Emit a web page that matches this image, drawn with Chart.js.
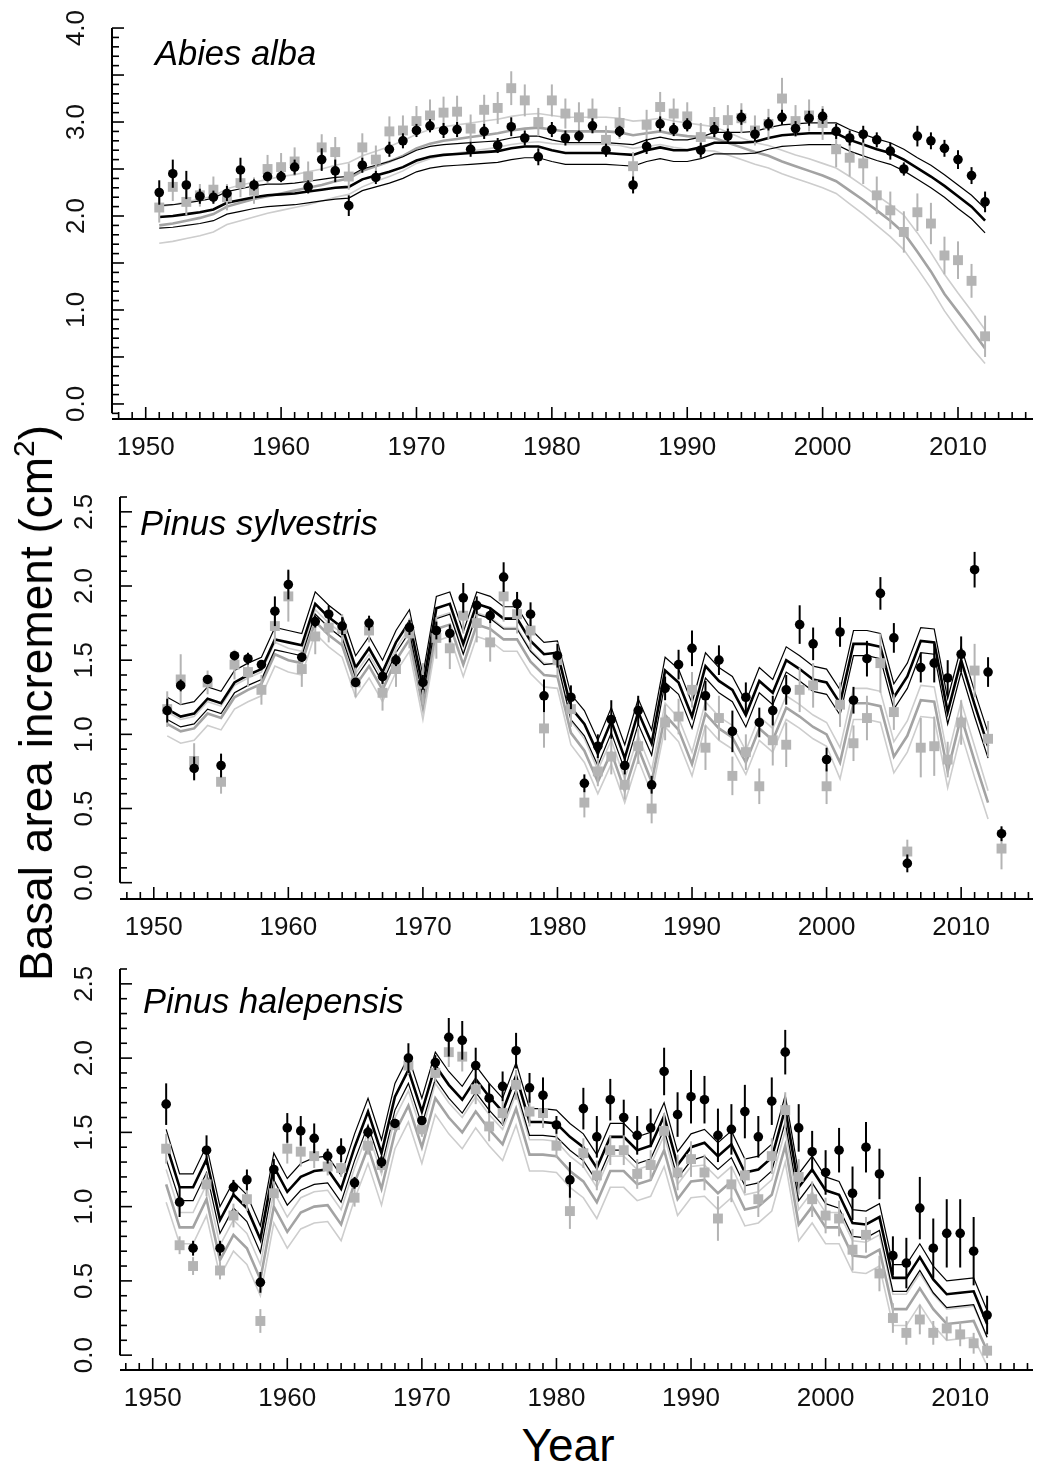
<!DOCTYPE html>
<html>
<head>
<meta charset="utf-8">
<script src="https://cdn.jsdelivr.net/npm/chart.js@4.4.0/dist/chart.umd.min.js"></script>
<style>
  html, body { margin: 0; padding: 0; background: #fff; }
  body { width: 1040px; height: 1465px; position: relative; overflow: hidden;
         font-family: "Liberation Sans", Arial, sans-serif; color: #000; }
  canvas { position: absolute; left: 0; }
  .species { position: absolute; font-style: italic; font-size: 34.5px; line-height: 1; white-space: nowrap; }
  #ylab { position: absolute; left: 36px; top: 703px; font-size: 46px; line-height: 1; white-space: nowrap;
          transform: translate(-50%, -50%) rotate(-90deg); }
  #ylab sup { font-size: 30px; vertical-align: 18px; line-height: 0; }
  #xlab { position: absolute; left: 568px; top: 1445px; font-size: 46px; line-height: 1;
          transform: translate(-50%, -50%); }
</style>
</head>
<body>
<canvas id="abies" width="1040" height="470" style="top:0px"></canvas>
<canvas id="sylvestris" width="1040" height="480" style="top:470px"></canvas>
<canvas id="halepensis" width="1040" height="465" style="top:950px"></canvas>

<div class="species" style="left:155px; top:36px">Abies alba</div>
<div class="species" style="left:140px; top:506px">Pinus sylvestris</div>
<div class="species" style="left:143px; top:984px">Pinus halepensis</div>
<div id="ylab">Basal area increment (cm<sup>2</sup>)</div>
<div id="xlab">Year</div>

<script>
// ---- categories / tick labels ----
const years = [1951, 1952, 1953, 1954, 1955, 1956, 1957, 1958, 1959, 1960,
               1961, 1962, 1963, 1964, 1965, 1966, 1967, 1968, 1969, 1970,
               1971, 1972, 1973, 1974, 1975, 1976, 1977, 1978, 1979, 1980,
               1981, 1982, 1983, 1984, 1985, 1986, 1987, 1988, 1989, 1990,
               1991, 1992, 1993, 1994, 1995, 1996, 1997, 1998, 1999, 2000,
               2001, 2002, 2003, 2004, 2005, 2006, 2007, 2008, 2009, 2010,
               2011, 2012];
const yearsSylv = [...years, 2013];
const xLabels = [1950, 1960, 1970, 1980, 1990, 2000, 2010];
const yLabelsAbies = [0, 1, 2, 3, 4];
const yLabelsPinus = [0, 0.5, 1, 1.5, 2, 2.5];

// ---- Abies alba ----
const abiesBlack = [2.25, 2.45, 2.33, 2.21, 2.20, 2.24, 2.49, 2.33, 2.42, 2.42,
  2.52, 2.31, 2.60, 2.48, 2.11, 2.54, 2.41, 2.71, 2.80, 2.91,
  2.96, 2.91, 2.92, 2.71, 2.90, 2.75, 2.95, 2.83, 2.63, 2.92,
  2.83, 2.85, 2.96, 2.70, 2.90, 2.33, 2.74, 2.98, 2.92, 2.97,
  2.70, 2.92, 2.85, 3.05, 2.87, 2.98, 3.05, 2.93, 3.04, 3.06,
  2.90, 2.83, 2.87, 2.81, 2.69, 2.50, 2.85, 2.80, 2.72, 2.60,
  2.43, 2.15];
const abiesBlackErr = [0.13, 0.15, 0.15, 0.08, 0.07, 0.08, 0.13, 0.06, 0.05, 0.06,
  0.08, 0.07, 0.12, 0.12, 0.11, 0.08, 0.07, 0.08, 0.08, 0.07,
  0.07, 0.08, 0.08, 0.08, 0.08, 0.08, 0.10, 0.08, 0.09, 0.08,
  0.08, 0.06, 0.08, 0.07, 0.06, 0.09, 0.08, 0.08, 0.07, 0.07,
  0.08, 0.08, 0.08, 0.08, 0.08, 0.07, 0.08, 0.08, 0.08, 0.08,
  0.08, 0.08, 0.09, 0.08, 0.09, 0.07, 0.11, 0.09, 0.09, 0.10,
  0.09, 0.11];
const abiesGrey = [2.09, 2.31, 2.15, 2.22, 2.28, 2.20, 2.35, 2.27, 2.50, 2.52,
  2.58, 2.42, 2.73, 2.68, 2.42, 2.73, 2.60, 2.90, 2.91, 3.01,
  3.07, 3.10, 3.11, 2.93, 3.13, 3.15, 3.36, 3.23, 3.00, 3.23,
  3.09, 3.05, 3.09, 2.81, 2.99, 2.53, 2.97, 3.16, 3.09, 3.06,
  2.84, 3.00, 3.02, 3.04, 2.91, 2.98, 3.25, 3.01, 3.07, 2.99,
  2.71, 2.62, 2.56, 2.22, 2.06, 1.83, 2.04, 1.92, 1.58, 1.53,
  1.31, 0.72];
const abiesGreyErr = [0.16, 0.15, 0.14, 0.12, 0.14, 0.14, 0.15, 0.14, 0.15, 0.15,
  0.15, 0.16, 0.14, 0.16, 0.14, 0.15, 0.15, 0.16, 0.16, 0.16,
  0.17, 0.17, 0.17, 0.15, 0.16, 0.17, 0.18, 0.17, 0.15, 0.17,
  0.16, 0.16, 0.16, 0.15, 0.17, 0.15, 0.16, 0.16, 0.16, 0.15,
  0.15, 0.16, 0.16, 0.16, 0.16, 0.16, 0.22, 0.17, 0.17, 0.18,
  0.19, 0.20, 0.22, 0.20, 0.20, 0.22, 0.20, 0.22, 0.20, 0.20,
  0.18, 0.22];
const abiesFit = [1.99, 2.00, 2.02, 2.04, 2.07, 2.14, 2.17, 2.20, 2.22, 2.23,
  2.24, 2.26, 2.28, 2.30, 2.31, 2.39, 2.43, 2.47, 2.52, 2.59,
  2.63, 2.65, 2.66, 2.67, 2.68, 2.69, 2.72, 2.74, 2.74, 2.70,
  2.67, 2.67, 2.67, 2.67, 2.66, 2.65, 2.70, 2.73, 2.70, 2.70,
  2.73, 2.78, 2.78, 2.78, 2.79, 2.83, 2.86, 2.87, 2.88, 2.88,
  2.88, 2.81, 2.76, 2.71, 2.67, 2.60, 2.51, 2.42, 2.32, 2.21,
  2.10, 1.95];
const abiesFitUp = [2.11, 2.12, 2.14, 2.16, 2.19, 2.26, 2.29, 2.32, 2.34, 2.34,
  2.35, 2.37, 2.39, 2.41, 2.42, 2.50, 2.54, 2.58, 2.63, 2.70,
  2.74, 2.76, 2.77, 2.78, 2.79, 2.80, 2.83, 2.85, 2.85, 2.81,
  2.78, 2.78, 2.78, 2.78, 2.77, 2.76, 2.81, 2.84, 2.81, 2.81,
  2.84, 2.89, 2.89, 2.89, 2.90, 2.94, 2.97, 2.98, 2.99, 2.99,
  2.99, 2.92, 2.87, 2.82, 2.78, 2.71, 2.62, 2.54, 2.44, 2.33,
  2.22, 2.08];
const abiesFitLo = [1.87, 1.88, 1.90, 1.92, 1.95, 2.02, 2.05, 2.08, 2.10, 2.11,
  2.12, 2.14, 2.16, 2.18, 2.19, 2.27, 2.31, 2.35, 2.40, 2.47,
  2.51, 2.53, 2.54, 2.55, 2.56, 2.57, 2.60, 2.62, 2.62, 2.58,
  2.55, 2.55, 2.55, 2.55, 2.54, 2.53, 2.58, 2.61, 2.58, 2.58,
  2.61, 2.66, 2.66, 2.66, 2.67, 2.71, 2.74, 2.75, 2.76, 2.76,
  2.76, 2.69, 2.64, 2.59, 2.55, 2.48, 2.39, 2.30, 2.20, 2.08,
  1.97, 1.82];
const abiesGreyFit = [1.90, 1.92, 1.95, 1.98, 2.02, 2.10, 2.14, 2.18, 2.21, 2.24,
  2.27, 2.30, 2.33, 2.37, 2.40, 2.48, 2.53, 2.58, 2.64, 2.72,
  2.77, 2.80, 2.82, 2.84, 2.86, 2.88, 2.91, 2.93, 2.94, 2.92,
  2.90, 2.90, 2.90, 2.90, 2.89, 2.86, 2.88, 2.90, 2.87, 2.85,
  2.84, 2.83, 2.78, 2.73, 2.68, 2.64, 2.58, 2.53, 2.48, 2.43,
  2.37, 2.27, 2.17, 2.06, 1.95, 1.82, 1.62, 1.41, 1.17, 0.98,
  0.79, 0.59];
const abiesGreyUp = [2.10, 2.12, 2.15, 2.18, 2.21, 2.29, 2.33, 2.36, 2.39, 2.42,
  2.44, 2.47, 2.50, 2.54, 2.57, 2.64, 2.69, 2.74, 2.80, 2.87,
  2.92, 2.95, 2.97, 2.99, 3.01, 3.03, 3.06, 3.08, 3.09, 3.07,
  3.05, 3.05, 3.05, 3.05, 3.04, 3.01, 3.02, 3.04, 3.01, 2.99,
  2.97, 2.95, 2.89, 2.83, 2.78, 2.75, 2.70, 2.65, 2.61, 2.56,
  2.51, 2.42, 2.32, 2.22, 2.12, 2.01, 1.82, 1.61, 1.38, 1.18,
  0.99, 0.79];
const abiesGreyLo = [1.71, 1.73, 1.76, 1.79, 1.83, 1.91, 1.95, 1.99, 2.03, 2.06,
  2.09, 2.12, 2.16, 2.20, 2.23, 2.31, 2.37, 2.42, 2.48, 2.56,
  2.61, 2.65, 2.67, 2.69, 2.71, 2.73, 2.76, 2.78, 2.79, 2.77,
  2.76, 2.76, 2.76, 2.76, 2.75, 2.72, 2.74, 2.76, 2.73, 2.71,
  2.70, 2.69, 2.65, 2.60, 2.55, 2.51, 2.45, 2.40, 2.35, 2.30,
  2.24, 2.13, 2.02, 1.90, 1.78, 1.64, 1.44, 1.23, 0.99, 0.79,
  0.60, 0.43];

// ---- Pinus sylvestris (points run to 2013) ----
const sylvBlack = [1.16, 1.33, 0.77, 1.37, 0.79, 1.53, 1.51, 1.47, 1.83, 2.01,
  1.52, 1.76, 1.81, 1.73, 1.35, 1.75, 1.39, 1.50, 1.72, 1.35,
  1.70, 1.68, 1.92, 1.87, 1.80, 2.06, 1.88, 1.81, 1.26, 1.53,
  1.25, 0.67, 0.92, 1.10, 0.79, 1.16, 0.66, 1.31, 1.47, 1.58,
  1.26, 1.50, 1.02, 1.25, 1.08, 1.16, 1.30, 1.74, 1.61, 0.83,
  1.69, 1.23, 1.51, 1.95, 1.65, 0.13, 1.45, 1.48, 1.38, 1.54,
  2.11, 1.42, 0.33];
const sylvBlackErr = [0.08, 0.04, 0.08, 0.03, 0.08, 0.03, 0.04, 0.03, 0.10, 0.10,
  0.03, 0.04, 0.06, 0.06, 0.03, 0.05, 0.05, 0.04, 0.05, 0.05,
  0.06, 0.06, 0.10, 0.06, 0.05, 0.10, 0.08, 0.08, 0.11, 0.08,
  0.08, 0.06, 0.08, 0.13, 0.06, 0.10, 0.06, 0.08, 0.10, 0.12,
  0.10, 0.10, 0.14, 0.10, 0.10, 0.10, 0.10, 0.13, 0.11, 0.08,
  0.10, 0.09, 0.12, 0.11, 0.10, 0.06, 0.10, 0.13, 0.12, 0.12,
  0.12, 0.10, 0.05];
const sylvGrey = [1.17, 1.37, 0.82, 1.35, 0.68, 1.47, 1.42, 1.30, 1.73, 1.93,
  1.44, 1.66, 1.72, 1.71, 1.35, 1.70, 1.28, 1.44, 1.68, 1.34,
  1.65, 1.58, 1.80, 1.75, 1.62, 1.93, 1.81, 1.70, 1.04, 1.50,
  1.17, 0.54, 0.75, 0.85, 0.66, 0.92, 0.50, 1.08, 1.12, 1.30,
  0.91, 1.11, 0.72, 0.88, 0.65, 0.96, 0.93, 1.30, 1.33, 0.65,
  1.20, 0.94, 1.11, 1.48, 1.15, 0.21, 0.91, 0.92, 0.83, 1.08,
  1.43, 0.97, 0.23];
const sylvGreyErr = [0.12, 0.17, 0.12, 0.08, 0.08, 0.10, 0.10, 0.10, 0.12, 0.17,
  0.12, 0.12, 0.10, 0.10, 0.10, 0.08, 0.12, 0.12, 0.10, 0.14,
  0.14, 0.14, 0.12, 0.13, 0.13, 0.17, 0.13, 0.13, 0.13, 0.12,
  0.12, 0.10, 0.10, 0.12, 0.10, 0.12, 0.10, 0.12, 0.12, 0.12,
  0.15, 0.15, 0.13, 0.12, 0.12, 0.17, 0.15, 0.15, 0.15, 0.12,
  0.15, 0.12, 0.15, 0.20, 0.12, 0.08, 0.20, 0.20, 0.12, 0.15,
  0.18, 0.12, 0.14];
const sylvFit = [1.17, 1.12, 1.14, 1.24, 1.21, 1.35, 1.40, 1.44, 1.64, 1.62,
  1.60, 1.88, 1.79, 1.72, 1.45, 1.58, 1.42, 1.62, 1.76, 1.32,
  1.85, 1.88, 1.61, 1.88, 1.85, 1.78, 1.78, 1.63, 1.54, 1.55,
  1.18, 1.07, 0.87, 1.09, 0.84, 1.15, 0.94, 1.43, 1.35, 1.12,
  1.46, 1.36, 1.30, 1.13, 1.36, 1.28, 1.50, 1.44, 1.37, 1.35,
  1.21, 1.61, 1.61, 1.59, 1.25, 1.39, 1.63, 1.62, 1.15, 1.50,
  1.20, 0.92];
const sylvFitUp = [1.25, 1.20, 1.22, 1.32, 1.29, 1.43, 1.48, 1.52, 1.72, 1.70,
  1.68, 1.96, 1.87, 1.80, 1.53, 1.66, 1.50, 1.70, 1.84, 1.40,
  1.93, 1.96, 1.69, 1.96, 1.93, 1.86, 1.86, 1.71, 1.62, 1.63,
  1.27, 1.16, 0.96, 1.18, 0.93, 1.24, 1.03, 1.52, 1.44, 1.21,
  1.55, 1.45, 1.39, 1.22, 1.45, 1.37, 1.59, 1.53, 1.46, 1.44,
  1.30, 1.70, 1.70, 1.68, 1.34, 1.48, 1.72, 1.71, 1.24, 1.59,
  1.29, 1.01];
const sylvFitLo = [1.10, 1.05, 1.07, 1.17, 1.14, 1.28, 1.33, 1.37, 1.57, 1.55,
  1.53, 1.81, 1.72, 1.65, 1.38, 1.51, 1.35, 1.55, 1.69, 1.25,
  1.78, 1.81, 1.54, 1.81, 1.78, 1.71, 1.71, 1.56, 1.47, 1.48,
  1.10, 0.99, 0.79, 1.01, 0.76, 1.07, 0.86, 1.35, 1.27, 1.04,
  1.38, 1.28, 1.22, 1.05, 1.28, 1.20, 1.42, 1.36, 1.29, 1.27,
  1.13, 1.53, 1.53, 1.51, 1.17, 1.31, 1.55, 1.54, 1.07, 1.42,
  1.12, 0.84];
const sylvGreyFit = [1.07, 1.02, 1.04, 1.14, 1.11, 1.25, 1.30, 1.34, 1.54, 1.50,
  1.48, 1.76, 1.67, 1.60, 1.33, 1.46, 1.30, 1.50, 1.64, 1.18,
  1.71, 1.74, 1.47, 1.74, 1.71, 1.64, 1.64, 1.49, 1.40, 1.39,
  1.01, 0.89, 0.68, 0.88, 0.62, 0.91, 0.68, 1.13, 1.03, 0.80,
  1.14, 1.04, 0.98, 0.81, 1.04, 0.96, 1.18, 1.12, 1.05, 1.00,
  0.81, 1.21, 1.21, 1.19, 0.85, 0.99, 1.23, 1.22, 0.75, 1.12,
  0.82, 0.54];
const sylvGreyUp = [1.15, 1.10, 1.12, 1.22, 1.19, 1.33, 1.38, 1.42, 1.62, 1.58,
  1.56, 1.84, 1.75, 1.68, 1.41, 1.54, 1.38, 1.58, 1.72, 1.26,
  1.79, 1.82, 1.55, 1.82, 1.79, 1.72, 1.72, 1.57, 1.48, 1.47,
  1.09, 0.97, 0.76, 0.96, 0.70, 0.99, 0.76, 1.21, 1.11, 0.88,
  1.22, 1.12, 1.06, 0.89, 1.12, 1.04, 1.26, 1.20, 1.13, 1.08,
  0.91, 1.31, 1.31, 1.29, 0.95, 1.09, 1.33, 1.32, 0.85, 1.22,
  0.92, 0.62];
const sylvGreyLo = [0.99, 0.94, 0.96, 1.06, 1.03, 1.17, 1.22, 1.26, 1.46, 1.42,
  1.40, 1.68, 1.59, 1.52, 1.25, 1.38, 1.22, 1.42, 1.56, 1.10,
  1.63, 1.66, 1.39, 1.66, 1.63, 1.56, 1.56, 1.41, 1.32, 1.31,
  0.93, 0.81, 0.60, 0.80, 0.54, 0.83, 0.60, 1.05, 0.95, 0.72,
  1.06, 0.96, 0.90, 0.73, 0.96, 0.88, 1.10, 1.04, 0.97, 0.92,
  0.70, 1.10, 1.10, 1.08, 0.74, 0.88, 1.12, 1.11, 0.64, 1.01,
  0.71, 0.43];

// ---- Pinus halepensis ----
const halBlack = [1.69, 1.03, 0.72, 1.38, 0.72, 1.13, 1.18, 0.49, 1.25, 1.53,
  1.51, 1.46, 1.34, 1.38, 1.16, 1.50, 1.30, 1.56, 2.00, 1.58,
  1.97, 2.14, 2.12, 1.95, 1.73, 1.81, 2.05, 1.80, 1.75, 1.55,
  1.18, 1.66, 1.47, 1.72, 1.60, 1.48, 1.53, 1.91, 1.62, 1.74,
  1.72, 1.48, 1.52, 1.64, 1.47, 1.71, 2.04, 1.53, 1.37, 1.23,
  1.38, 1.09, 1.40, 1.22, 0.67, 0.62, 0.99, 0.72, 0.82, 0.82,
  0.70, 0.27];
const halBlackErr = [0.14, 0.10, 0.05, 0.10, 0.05, 0.05, 0.07, 0.07, 0.07, 0.10,
  0.10, 0.10, 0.05, 0.08, 0.04, 0.04, 0.04, 0.03, 0.10, 0.03,
  0.05, 0.13, 0.13, 0.12, 0.10, 0.10, 0.12, 0.10, 0.12, 0.06,
  0.12, 0.14, 0.14, 0.14, 0.12, 0.13, 0.13, 0.16, 0.15, 0.18,
  0.16, 0.18, 0.17, 0.18, 0.14, 0.16, 0.15, 0.16, 0.14, 0.15,
  0.15, 0.18, 0.17, 0.17, 0.13, 0.17, 0.21, 0.20, 0.23, 0.23,
  0.23, 0.13];
const halGrey = [1.39, 0.74, 0.60, 1.15, 0.57, 0.94, 1.05, 0.23, 1.09, 1.39,
  1.37, 1.34, 1.27, 1.26, 1.06, 1.41, 1.28, 1.55, 1.95, 1.52,
  1.90, 2.04, 2.01, 1.79, 1.54, 1.63, 1.82, 1.64, 1.63, 1.41,
  0.97, 1.36, 1.21, 1.38, 1.38, 1.22, 1.28, 1.51, 1.23, 1.32,
  1.23, 0.92, 1.15, 1.21, 1.05, 1.34, 1.65, 1.20, 1.05, 0.94,
  0.92, 0.71, 0.81, 0.55, 0.25, 0.15, 0.24, 0.15, 0.18, 0.14,
  0.08, 0.03];
const halGreyErr = [0.10, 0.06, 0.06, 0.08, 0.06, 0.08, 0.08, 0.08, 0.08, 0.10,
  0.10, 0.08, 0.06, 0.06, 0.06, 0.06, 0.05, 0.05, 0.06, 0.05,
  0.06, 0.10, 0.10, 0.10, 0.10, 0.08, 0.10, 0.10, 0.10, 0.08,
  0.12, 0.10, 0.10, 0.10, 0.10, 0.10, 0.10, 0.12, 0.12, 0.12,
  0.12, 0.15, 0.12, 0.12, 0.12, 0.12, 0.12, 0.12, 0.12, 0.12,
  0.12, 0.14, 0.12, 0.12, 0.10, 0.08, 0.10, 0.08, 0.08, 0.08,
  0.07, 0.05];
const halFit = [1.42, 1.13, 1.13, 1.32, 0.91, 1.08, 0.99, 0.78, 1.27, 1.10,
  1.20, 1.24, 1.25, 1.12, 1.40, 1.64, 1.36, 1.74, 1.92, 1.64,
  1.95, 1.82, 1.72, 1.86, 1.74, 1.64, 1.88, 1.57, 1.57, 1.56,
  1.47, 1.40, 1.26, 1.47, 1.47, 1.38, 1.41, 1.61, 1.28, 1.40,
  1.43, 1.34, 1.42, 1.23, 1.25, 1.33, 1.66, 1.13, 1.25, 1.11,
  1.08, 0.89, 0.88, 0.93, 0.52, 0.52, 0.66, 0.51, 0.41, 0.42,
  0.43, 0.21];
const halFitUp = [1.52, 1.22, 1.22, 1.41, 1.00, 1.17, 1.08, 0.87, 1.36, 1.19,
  1.29, 1.33, 1.34, 1.21, 1.49, 1.73, 1.45, 1.83, 2.01, 1.73,
  2.04, 1.91, 1.81, 1.95, 1.83, 1.73, 1.97, 1.66, 1.66, 1.65,
  1.56, 1.49, 1.35, 1.56, 1.56, 1.47, 1.50, 1.70, 1.37, 1.49,
  1.52, 1.43, 1.51, 1.32, 1.34, 1.42, 1.75, 1.22, 1.34, 1.20,
  1.17, 0.98, 0.97, 1.02, 0.61, 0.61, 0.75, 0.60, 0.50, 0.51,
  0.52, 0.30];
const halFitLo = [1.32, 1.04, 1.04, 1.23, 0.82, 0.99, 0.90, 0.69, 1.18, 1.01,
  1.11, 1.15, 1.16, 1.03, 1.31, 1.55, 1.27, 1.65, 1.83, 1.55,
  1.86, 1.73, 1.63, 1.77, 1.65, 1.55, 1.79, 1.48, 1.48, 1.47,
  1.38, 1.31, 1.17, 1.38, 1.38, 1.29, 1.32, 1.52, 1.19, 1.31,
  1.34, 1.25, 1.33, 1.14, 1.16, 1.24, 1.57, 1.04, 1.16, 1.02,
  0.99, 0.80, 0.79, 0.84, 0.43, 0.43, 0.57, 0.42, 0.32, 0.33,
  0.34, 0.12];
const halGreyFit = [1.15, 0.86, 0.86, 1.05, 0.64, 0.81, 0.72, 0.51, 1.00, 0.83,
  0.96, 1.00, 1.01, 0.88, 1.16, 1.40, 1.12, 1.50, 1.68, 1.40,
  1.73, 1.60, 1.50, 1.64, 1.52, 1.42, 1.66, 1.35, 1.35, 1.34,
  1.24, 1.17, 1.03, 1.24, 1.24, 1.15, 1.18, 1.38, 1.05, 1.17,
  1.18, 1.09, 1.17, 0.98, 1.00, 1.08, 1.41, 0.88, 1.00, 0.86,
  0.86, 0.67, 0.66, 0.71, 0.31, 0.31, 0.45, 0.31, 0.21, 0.22,
  0.23, 0.03];
const halGreyUp = [1.25, 0.96, 0.96, 1.15, 0.74, 0.91, 0.82, 0.61, 1.10, 0.93,
  1.06, 1.10, 1.11, 0.98, 1.26, 1.50, 1.22, 1.60, 1.78, 1.50,
  1.83, 1.70, 1.60, 1.74, 1.62, 1.52, 1.76, 1.45, 1.45, 1.44,
  1.34, 1.27, 1.13, 1.34, 1.34, 1.25, 1.28, 1.48, 1.15, 1.27,
  1.28, 1.19, 1.27, 1.08, 1.10, 1.18, 1.51, 0.98, 1.10, 0.96,
  0.96, 0.77, 0.76, 0.81, 0.41, 0.41, 0.55, 0.41, 0.31, 0.32,
  0.33, 0.12];
const halGreyLo = [1.03, 0.75, 0.75, 0.94, 0.53, 0.70, 0.61, 0.40, 0.89, 0.72,
  0.85, 0.89, 0.90, 0.77, 1.05, 1.29, 1.01, 1.39, 1.57, 1.29,
  1.62, 1.49, 1.39, 1.53, 1.41, 1.31, 1.55, 1.24, 1.24, 1.23,
  1.13, 1.06, 0.92, 1.13, 1.13, 1.04, 1.07, 1.27, 0.94, 1.06,
  1.07, 0.98, 1.06, 0.87, 0.89, 0.97, 1.30, 0.77, 0.89, 0.75,
  0.75, 0.56, 0.55, 0.60, 0.20, 0.20, 0.34, 0.20, 0.10, 0.11,
  0.12, -0.07];

// colours
const BLACK = '#000000';
const GREY_PT = '#b4b4b4';
const GREY_FIT = '#a3a3a3';
const GREY_CI = '#cdcdcd';
const LABEL_FONT = '26px "Liberation Sans", Arial, sans-serif';

function toPoints(xs, ys) {
    return ys.map((v, i) => ({ x: xs[i], y: v }));
}

// R-style axes: inward ticks, minor every 0.1 / every year, rotated y labels
const rAxes = {
    id: 'rAxes',
    beforeDatasetDraw(chart, args) {
        // error bars go right under their own points
        const ds = chart.data.datasets[args.index];
        if (!ds.errors) return;
        const { ctx, scales: { x, y } } = chart;
        ctx.save();
        ctx.strokeStyle = ds.errorColor;
        ctx.lineWidth = 2;
        ds.data.forEach((p, i) => {
            const px = x.getPixelForValue(p.x);
            ctx.beginPath();
            ctx.moveTo(px, y.getPixelForValue(p.y - ds.errors[i]));
            ctx.lineTo(px, y.getPixelForValue(p.y + ds.errors[i]));
            ctx.stroke();
        });
        ctx.restore();
    },
    afterDraw(chart, args, opts) {
        const { ctx, chartArea, scales: { x, y } } = chart;
        ctx.save();
        ctx.strokeStyle = '#000';
        ctx.fillStyle = '#111';
        ctx.font = LABEL_FONT;

        // y axis
        const ax = chartArea.left;
        ctx.lineWidth = 2;
        ctx.beginPath();
        ctx.moveTo(ax, y.getPixelForValue(opts.yFrom));
        ctx.lineTo(ax, y.getPixelForValue(opts.yTo));
        ctx.stroke();
        ctx.lineWidth = 1.6;
        for (let k = Math.round(opts.yFrom * 10); k <= Math.round(opts.yTo * 10); k++) {
            const py = y.getPixelForValue(k / 10);
            const len = (k % 5 === 0) ? 12 : 7;
            ctx.beginPath();
            ctx.moveTo(ax, py);
            ctx.lineTo(ax + len, py);
            ctx.stroke();
        }
        ctx.textAlign = 'center';
        ctx.textBaseline = 'middle';
        opts.yLabels.forEach(v => {
            ctx.save();
            ctx.translate(ax - 35, y.getPixelForValue(v));
            ctx.rotate(-Math.PI / 2);
            ctx.fillText(v.toFixed(1), 0, 0);
            ctx.restore();
        });

        // x axis
        const by = chartArea.bottom;
        ctx.lineWidth = 2;
        ctx.beginPath();
        ctx.moveTo(chartArea.left, by);
        ctx.lineTo(chartArea.right, by);
        ctx.stroke();
        ctx.lineWidth = 1.6;
        for (let yr = Math.ceil(x.min); yr <= Math.floor(x.max); yr++) {
            const px = x.getPixelForValue(yr);
            const len = (yr % 10 === 0) ? 12 : 7;
            ctx.beginPath();
            ctx.moveTo(px, by);
            ctx.lineTo(px, by - len);
            ctx.stroke();
        }
        xLabels.forEach(yr => {
            ctx.fillText(String(yr), x.getPixelForValue(yr), by + 29);
        });
        ctx.restore();
    }
};

function drawPanel(id, p) {
    const line = (ys, color, width, order) => ({
        data: toPoints(p.lineYears, ys),
        showLine: true, borderColor: color, borderWidth: width,
        pointRadius: 0, tension: 0, order: order
    });
    const datasets = [
        line(p.greyUp, GREY_CI, 1.6, 10),
        line(p.greyLo, GREY_CI, 1.6, 10),
        line(p.greyFit, GREY_FIT, 2.6, 9),
        line(p.fitUp, BLACK, 1.2, 8),
        line(p.fitLo, BLACK, 1.2, 8),
        line(p.fit, BLACK, 2.6, 7),
        {
            data: toPoints(p.pointYears, p.grey), errors: p.greyErr, errorColor: GREY_PT,
            pointStyle: 'rect', pointRadius: 7, pointBackgroundColor: GREY_PT,
            pointBorderWidth: 0, order: 6
        },
        {
            data: toPoints(p.pointYears, p.black), errors: p.blackErr, errorColor: BLACK,
            pointStyle: 'circle', pointRadius: 4.8, pointBackgroundColor: BLACK,
            pointBorderWidth: 0, order: 5
        }
    ];

    return new Chart(document.getElementById(id), {
        type: 'scatter',
        data: { datasets: datasets },
        options: {
            responsive: false,
            animation: false,
            events: [],
            layout: { padding: p.padding },
            plugins: {
                legend: { display: false },
                tooltip: { enabled: false },
                rAxes: { yFrom: p.yFrom, yTo: p.yTo, yLabels: p.yLabels }
            },
            scales: {
                x: { type: 'linear', min: p.xMin, max: p.xMax, display: false },
                y: { type: 'linear', min: p.yMin, max: p.yMax, display: false }
            }
        },
        plugins: [rAxes]
    });
}

drawPanel('abies', {
    lineYears: years, pointYears: years,
    black: abiesBlack, blackErr: abiesBlackErr, grey: abiesGrey, greyErr: abiesGreyErr,
    fit: abiesFit, fitUp: abiesFitUp, fitLo: abiesFitLo,
    greyFit: abiesGreyFit, greyUp: abiesGreyUp, greyLo: abiesGreyLo,
    padding: { left: 112, top: 13, right: 0, bottom: 51 },
    xMin: 1947.51, xMax: 2015.54, yMin: -0.16, yMax: 4.16,
    yFrom: -0.1, yTo: 4.0, yLabels: yLabelsAbies
});

drawPanel('sylvestris', {
    lineYears: years, pointYears: yearsSylv,
    black: sylvBlack, blackErr: sylvBlackErr, grey: sylvGrey, greyErr: sylvGreyErr,
    fit: sylvFit, fitUp: sylvFitUp, fitLo: sylvFitLo,
    greyFit: sylvGreyFit, greyUp: sylvGreyUp, greyLo: sylvGreyLo,
    padding: { left: 120, top: 27, right: 0, bottom: 51 },
    xMin: 1947.49, xMax: 2015.34, yMin: -0.11, yMax: 2.6,
    yFrom: 0, yTo: 2.6, yLabels: yLabelsPinus
});

drawPanel('halepensis', {
    lineYears: years, pointYears: years,
    black: halBlack, blackErr: halBlackErr, grey: halGrey, greyErr: halGreyErr,
    fit: halFit, fitUp: halFitUp, fitLo: halFitLo,
    greyFit: halGreyFit, greyUp: halGreyUp, greyLo: halGreyLo,
    padding: { left: 120, top: 19, right: 0, bottom: 45 },
    xMin: 1947.57, xMax: 2015.41, yMin: -0.1, yMax: 2.6,
    yFrom: 0, yTo: 2.6, yLabels: yLabelsPinus
});
</script>
</body>
</html>
